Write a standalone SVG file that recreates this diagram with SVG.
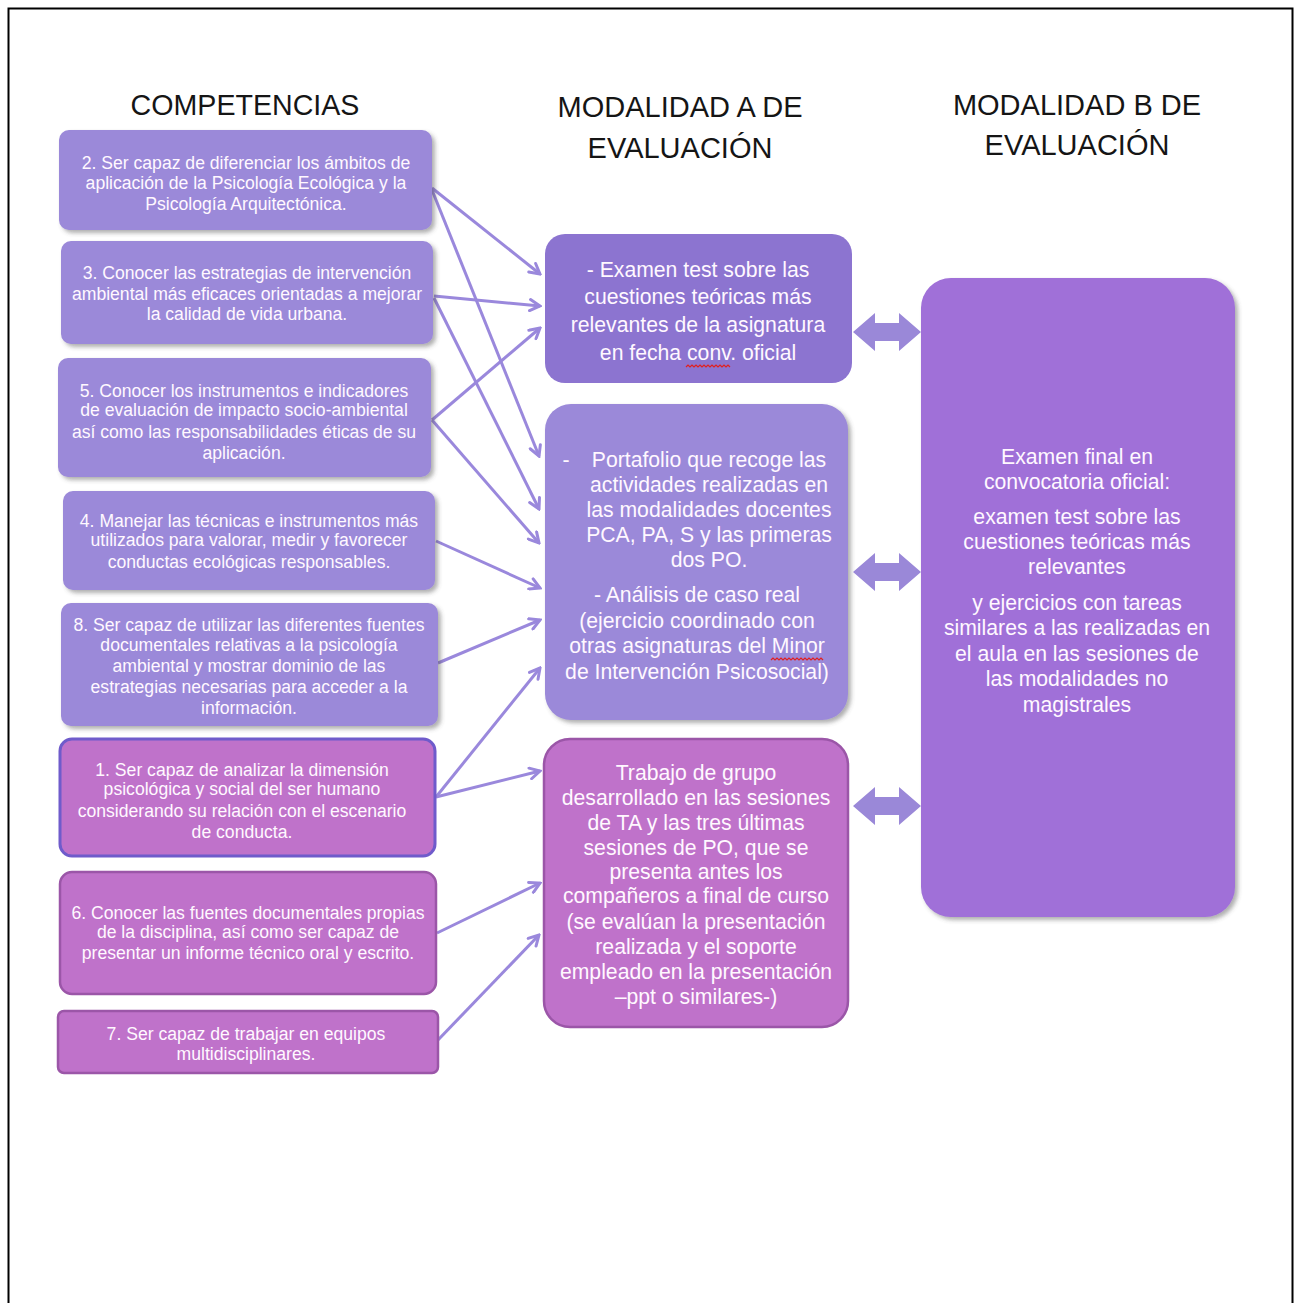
<svg xmlns="http://www.w3.org/2000/svg" width="1295" height="1303" viewBox="0 0 1295 1303">
<style>
.hdr{font-family:"Liberation Sans",Arial,sans-serif;font-size:29px;fill:#151515;text-anchor:middle}
.ts{font-family:"Liberation Sans",Arial,sans-serif;font-size:17.6px;fill:#fff8ff;text-anchor:middle}
.tm{font-family:"Liberation Sans",Arial,sans-serif;font-size:21.2px;fill:#fff8ff;text-anchor:middle}
.lav{fill:#9b89d9}
.dark{fill:#8c74d0}
.mag{fill:#bf72ca;stroke:#9b56a8;stroke-width:2.5}
.con line{stroke:#9a88dc;stroke-width:3;fill:none;marker-end:url(#ah)}
.dbl{fill:#9a88d8}
.sq{fill:none;stroke:#e02020;stroke-width:1.2}
</style>
<defs>
<filter id="sh" x="-5%" y="-5%" width="115%" height="115%">
<feDropShadow dx="3" dy="3" stdDeviation="2" flood-color="#505050" flood-opacity="0.45"/>
</filter>
<marker id="ah" viewBox="0 0 14 14" refX="12" refY="7" markerWidth="14" markerHeight="14" markerUnits="userSpaceOnUse" orient="auto">
<path d="M2,1.5 L12,7 L2,12.5" fill="none" stroke="#9a88dc" stroke-width="3" stroke-linecap="round"/>
</marker>
</defs>
<rect x="0" y="0" width="1295" height="1303" fill="#ffffff"/>
<rect x="8.5" y="8.5" width="1284" height="1320" fill="none" stroke="#000" stroke-width="2"/>

<g id="headers">
<text class="hdr" x="245" y="115" style="font-size:28.6px">COMPETENCIAS</text>
<text class="hdr" x="680" y="117">MODALIDAD A DE</text>
<text class="hdr" x="680" y="158">EVALUACIÓN</text>
<text class="hdr" x="1077" y="115">MODALIDAD B DE</text>
<text class="hdr" x="1077" y="155">EVALUACIÓN</text>
</g>

<g class="con" id="connectors">
<line x1="432" y1="188" x2="540" y2="274"/>
<line x1="432" y1="190" x2="539" y2="456"/>
<line x1="434" y1="296" x2="540" y2="306"/>
<line x1="434" y1="298" x2="539" y2="509"/>
<line x1="432" y1="420" x2="540" y2="328"/>
<line x1="432" y1="420" x2="539" y2="543"/>
<line x1="436" y1="541" x2="540" y2="588"/>
<line x1="438" y1="663" x2="540" y2="620"/>
<line x1="436" y1="797" x2="540" y2="668"/>
<line x1="436" y1="797" x2="540" y2="771"/>
<line x1="437" y1="933" x2="540" y2="883"/>
<line x1="438" y1="1040" x2="539" y2="935"/>
</g>

<g id="c2">
<rect class="lav" x="59" y="130" width="373" height="100" rx="10" filter="url(#sh)"/>
<text class="ts" x="246" y="169">2. Ser capaz de diferenciar los ámbitos de</text>
<text class="ts" x="246" y="189">aplicación de la Psicología Ecológica y la</text>
<text class="ts" x="246" y="210">Psicología Arquitectónica.</text>
</g>
<g id="c3">
<rect class="lav" x="61" y="241" width="372" height="103" rx="10" filter="url(#sh)"/>
<text class="ts" x="247" y="279">3. Conocer las estrategias de intervención</text>
<text class="ts" x="247" y="300">ambiental más eficaces orientadas a mejorar</text>
<text class="ts" x="247" y="320">la calidad de vida urbana.</text>
</g>
<g id="c5">
<rect class="lav" x="58" y="358" width="373" height="119" rx="10" filter="url(#sh)"/>
<text class="ts" x="244" y="397">5. Conocer los instrumentos e indicadores</text>
<text class="ts" x="244" y="416">de evaluación de impacto socio-ambiental</text>
<text class="ts" x="244" y="438">así como las responsabilidades éticas de su</text>
<text class="ts" x="244" y="459">aplicación.</text>
</g>
<g id="c4">
<rect class="lav" x="63" y="491" width="372" height="99" rx="10" filter="url(#sh)"/>
<text class="ts" x="249" y="527">4. Manejar las técnicas e instrumentos más</text>
<text class="ts" x="249" y="546">utilizados para valorar, medir y favorecer</text>
<text class="ts" x="249" y="568">conductas ecológicas responsables.</text>
</g>
<g id="c8">
<rect class="lav" x="61" y="603" width="377" height="123" rx="10" filter="url(#sh)"/>
<text class="ts" x="249" y="631">8. Ser capaz de utilizar las diferentes fuentes</text>
<text class="ts" x="249" y="651">documentales relativas a la psicología</text>
<text class="ts" x="249" y="672">ambiental y mostrar dominio de las</text>
<text class="ts" x="249" y="693">estrategias necesarias para acceder a la</text>
<text class="ts" x="249" y="714">información.</text>
</g>
<g id="c1">
<rect x="60" y="739" width="375" height="117" rx="12" fill="#bf72ca" stroke="#6f5bcb" stroke-width="3"/>
<text class="ts" x="242" y="776">1. Ser capaz de analizar la dimensión</text>
<text class="ts" x="242" y="795">psicológica y social del ser humano</text>
<text class="ts" x="242" y="817">considerando su relación con el escenario</text>
<text class="ts" x="242" y="838">de conducta.</text>
</g>
<g id="c6">
<rect class="mag" x="60" y="872" width="376" height="122" rx="12"/>
<text class="ts" x="248" y="919">6. Conocer las fuentes documentales propias</text>
<text class="ts" x="248" y="938">de la disciplina, así como ser capaz de</text>
<text class="ts" x="248" y="959">presentar un informe técnico oral y escrito.</text>
</g>
<g id="c7">
<rect class="mag" x="58" y="1011" width="380" height="62" rx="6"/>
<text class="ts" x="246" y="1040">7. Ser capaz de trabajar en equipos</text>
<text class="ts" x="246" y="1060">multidisciplinares.</text>
</g>

<g id="a1">
<rect class="dark" x="545" y="234" width="307" height="149" rx="20"/>
<text class="tm" x="698" y="277">- Examen test sobre las</text>
<text class="tm" x="698" y="304">cuestiones teóricas más</text>
<text class="tm" x="698" y="332">relevantes de la asignatura</text>
<text class="tm" x="698" y="360">en fecha conv. oficial</text>
<path class="sq" d="M686,367 l2,-2 2,2 2,-2 2,2 2,-2 2,2 2,-2 2,2 2,-2 2,2 2,-2 2,2 2,-2 2,2 2,-2 2,2 2,-2 2,2 2,-2 2,2 2,-2 2,2"/>
</g>
<g id="a2">
<rect class="lav" x="545" y="404" width="303" height="316" rx="26" filter="url(#sh)"/>
<text class="tm" x="566" y="467">-</text>
<text class="tm" x="709" y="467">Portafolio que recoge las</text>
<text class="tm" x="709" y="492">actividades realizadas en</text>
<text class="tm" x="709" y="517">las modalidades docentes</text>
<text class="tm" x="709" y="542">PCA, PA, S y las primeras</text>
<text class="tm" x="709" y="567">dos PO.</text>
<text class="tm" x="697" y="602">- Análisis de caso real</text>
<text class="tm" x="697" y="628">(ejercicio coordinado con</text>
<text class="tm" x="697" y="653">otras asignaturas del Minor</text>
<text class="tm" x="697" y="679">de Intervención Psicosocial)</text>
<path class="sq" d="M771,660 l2,-2 2,2 2,-2 2,2 2,-2 2,2 2,-2 2,2 2,-2 2,2 2,-2 2,2 2,-2 2,2 2,-2 2,2 2,-2 2,2 2,-2 2,2 2,-2 2,2 2,-2 2,2 2,-2 2,2"/>
</g>
<g id="a3">
<rect class="mag" x="544" y="739" width="304" height="288" rx="26"/>
<text class="tm" x="696" y="780">Trabajo de grupo</text>
<text class="tm" x="696" y="805">desarrollado en las sesiones</text>
<text class="tm" x="696" y="830">de TA y las tres últimas</text>
<text class="tm" x="696" y="855">sesiones de PO, que se</text>
<text class="tm" x="696" y="879">presenta antes los</text>
<text class="tm" x="696" y="903">compañeros a final de curso</text>
<text class="tm" x="696" y="929">(se evalúan la presentación</text>
<text class="tm" x="696" y="954">realizada y el soporte</text>
<text class="tm" x="696" y="979">empleado en la presentación</text>
<text class="tm" x="696" y="1004">–ppt o similares-)</text>
</g>

<g id="b">
<rect x="921" y="278" width="314" height="639" rx="30" fill="#a070d8" filter="url(#sh)"/>
<text class="tm" x="1077" y="464">Examen final en</text>
<text class="tm" x="1077" y="489">convocatoria oficial:</text>
<text class="tm" x="1077" y="524">examen test sobre las</text>
<text class="tm" x="1077" y="549">cuestiones teóricas más</text>
<text class="tm" x="1077" y="574">relevantes</text>
<text class="tm" x="1077" y="610">y ejercicios con tareas</text>
<text class="tm" x="1077" y="635">similares a las realizadas en</text>
<text class="tm" x="1077" y="661">el aula en las sesiones de</text>
<text class="tm" x="1077" y="686">las modalidades no</text>
<text class="tm" x="1077" y="712">magistrales</text>
</g>

<g id="links">
<polygon class="dbl" points="853,332 875,313 875,323 899,323 899,313 921,332 899,351 899,341 875,341 875,351"/>
<polygon class="dbl" points="853,572 875,553 875,563 899,563 899,553 921,572 899,591 899,581 875,581 875,591"/>
<polygon class="dbl" points="853,806 875,787 875,797 899,797 899,787 921,806 899,825 899,815 875,815 875,825"/>
</g>
</svg>
